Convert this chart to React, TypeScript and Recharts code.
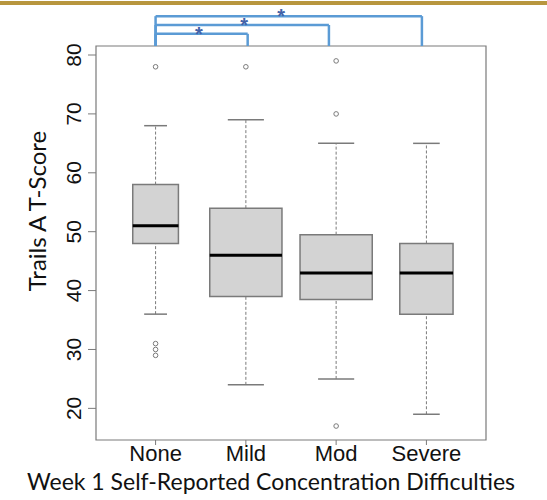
import React from "react";
import {
  ComposedChart,
  XAxis,
  YAxis,
  Scatter,
  ReferenceArea,
  ReferenceLine,
  ReferenceDot,
} from "recharts";

// Trails A T-score by week 1 self-reported concentration difficulties
const categories = ["None", "Mild", "Mod", "Severe"];
const lowerWhisker = [36, 24, 25, 19];
const q1 = [48, 39, 38.5, 36];
const median = [51, 46, 43, 43];
const q3 = [58, 54, 49.5, 48];
const upperWhisker = [68, 69, 65, 65];
const outliers = [[78, 31, 30, 29], [78], [79, 70, 17], []];
const yTicks = [20, 30, 40, 50, 60, 70, 80];

// significance brackets: None vs each other group (hand placed in the original)
const bracketFrom = [1, 1, 1];
const bracketTo = [2.02, 2.92, 3.95];
const bracketLevel = [83.6, 85.1, 86.6];
const starX = [1.48, 1.98, 2.39];

// varwidth-ish half widths of boxes (x units)
const halfWidth = [0.253, 0.4, 0.4, 0.295];

const X_DOMAIN: [number, number] = [0.34, 4.66];
const Y_DOMAIN: [number, number] = [14.63, 81.53];

const GRAY = "#7a7a7a";
const BLUE = "#5b9bd5";
const AXIS_FONT = "'Liberation Sans', Arial, sans-serif";
const TITLE_FONT = "Lato, 'Open Sans', sans-serif";

const outlierPoints = outliers.flatMap((vals, i) =>
  vals.map((v) => ({ x: i + 1, y: v }))
);

const YTick = ({ x, y, payload }: any) => (
  <text
    x={x - 12}
    y={y}
    transform={`rotate(-90 ${x - 12} ${y})`}
    textAnchor="middle"
    dy="0.35em"
    fontSize={21}
    fontFamily={AXIS_FONT}
    fill="#111"
  >
    {payload.value}
  </text>
);

const XTick = ({ x, y, payload }: any) => (
  <text
    x={x}
    y={y}
    textAnchor="middle"
    dy="0.71em"
    fontSize={22}
    fontFamily={AXIS_FONT}
    fill="#111"
  >
    {categories[payload.value - 1]}
  </text>
);

const Star = ({ cx, cy }: any) => (
  <text
    x={cx}
    y={cy + 7}
    textAnchor="middle"
    fontSize={20}
    fontWeight="bold"
    fontFamily={AXIS_FONT}
    fill="#4262a8"
  >
    *
  </text>
);

const OutlierDot = ({ cx, cy }: any) => (
  <circle cx={cx} cy={cy} r={2.3} fill="#fff" stroke={GRAY} strokeWidth={1} />
);

export default function App() {
  return (
    <div style={{ position: "absolute", left: 0, top: 0, width: 547, height: 500, background: "#fff" }}>
      <div style={{ position: "absolute", left: 0, top: 1, width: 547, height: 4, background: "#b8963e" }} />
      <ComposedChart
        width={547}
        height={500}
        margin={{ top: 46, right: 61, bottom: 0, left: 0 }}
        style={{ position: "absolute", left: 0, top: 0 }}
      >
        <XAxis
          type="number"
          dataKey="x"
          domain={X_DOMAIN}
          ticks={[1, 2, 3, 4]}
          allowDataOverflow
          axisLine={false}
          tickLine={{ stroke: GRAY }}
          tickSize={5}
          tickMargin={0}
          height={60}
          tick={<XTick />}
          label={{
            content: ({ viewBox }: any) => {
              const lx = 271;
              const ly = viewBox.y + 50;
              return (
                <text
                  x={lx}
                  y={ly}
                  textAnchor="middle"
                  fontSize={23}
                  fontFamily={TITLE_FONT}
                  fill="#111"
                >
                  Week 1 Self-Reported Concentration Difficulties
                </text>
              );
            },
          }}
        />
        <YAxis
          type="number"
          dataKey="y"
          domain={Y_DOMAIN}
          ticks={yTicks}
          allowDataOverflow
          axisLine={false}
          tickLine={{ stroke: GRAY }}
          tickSize={8}
          width={96}
          tick={<YTick />}
          label={{
            content: ({ viewBox }: any) => {
              const lx = 38;
              const ly = viewBox.y + viewBox.height / 2 - 32;
              return (
                <text
                  x={lx}
                  y={ly}
                  transform={`rotate(-90 ${lx} ${ly})`}
                  textAnchor="middle"
                  dy="0.35em"
                  fontSize={24}
                  fontFamily={TITLE_FONT}
                  fill="#111"
                >
                  Trails A T-Score
                </text>
              );
            },
          }}
        />

        {/* plot frame */}
        <ReferenceArea
          x1={X_DOMAIN[0]}
          x2={X_DOMAIN[1]}
          y1={Y_DOMAIN[0]}
          y2={Y_DOMAIN[1]}
          fill="none"
          fillOpacity={0}
          stroke={GRAY}
          strokeWidth={1.2}
          ifOverflow="visible"
        />

        {categories.map((c, i) => {
          const cx = i + 1;
          const hw = halfWidth[i];
          return (
            <React.Fragment key={c}>
              <ReferenceLine
                segment={[{ x: cx, y: q3[i] }, { x: cx, y: upperWhisker[i] }]}
                stroke={GRAY}
                strokeDasharray="3 2"
              />
              <ReferenceLine
                segment={[{ x: cx, y: lowerWhisker[i] }, { x: cx, y: q1[i] }]}
                stroke={GRAY}
                strokeDasharray="3 2"
              />
              <ReferenceLine
                segment={[{ x: cx - hw / 2, y: upperWhisker[i] }, { x: cx + hw / 2, y: upperWhisker[i] }]}
                stroke={GRAY}
                strokeWidth={1.5}
              />
              <ReferenceLine
                segment={[{ x: cx - hw / 2, y: lowerWhisker[i] }, { x: cx + hw / 2, y: lowerWhisker[i] }]}
                stroke={GRAY}
                strokeWidth={1.5}
              />
              <ReferenceArea
                x1={cx - hw}
                x2={cx + hw}
                y1={q1[i]}
                y2={q3[i]}
                fill="#d3d3d3"
                fillOpacity={1}
                stroke={GRAY}
                strokeWidth={1.5}
              />
              <ReferenceLine
                segment={[{ x: cx - hw, y: median[i] }, { x: cx + hw, y: median[i] }]}
                stroke="#000"
                strokeWidth={3}
              />
            </React.Fragment>
          );
        })}

        <Scatter data={outlierPoints} shape={<OutlierDot />} isAnimationActive={false} />

        {bracketLevel.map((lvl, i) => (
          <React.Fragment key={`b${i}`}>
            <ReferenceLine
              segment={[{ x: bracketFrom[i], y: lvl }, { x: bracketTo[i], y: lvl }]}
              stroke={BLUE}
              strokeWidth={2.5}
              ifOverflow="visible"
            />
            <ReferenceLine
              segment={[{ x: bracketFrom[i], y: lvl }, { x: bracketFrom[i], y: Y_DOMAIN[1] }]}
              stroke={BLUE}
              strokeWidth={2.5}
              ifOverflow="visible"
            />
            <ReferenceLine
              segment={[{ x: bracketTo[i], y: lvl }, { x: bracketTo[i], y: Y_DOMAIN[1] }]}
              stroke={BLUE}
              strokeWidth={2.5}
              ifOverflow="visible"
            />
            <ReferenceDot
              x={starX[i]}
              y={lvl}
              r={0}
              shape={<Star />}
              ifOverflow="visible"
            />
          </React.Fragment>
        ))}
      </ComposedChart>
    </div>
  );
}
